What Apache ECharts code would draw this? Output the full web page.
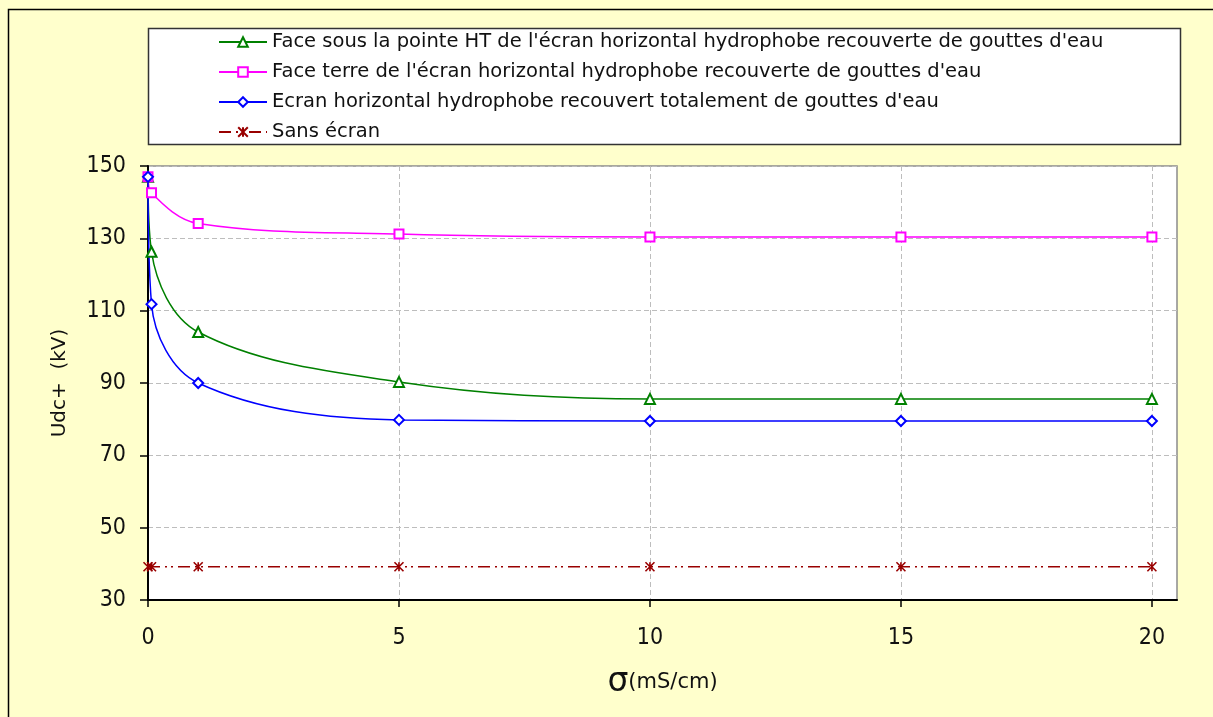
<!DOCTYPE html>
<html>
<head>
<meta charset="utf-8">
<script src="https://cdn.jsdelivr.net/npm/echarts@6/dist/echarts.min.js"></script>
<style>
html,body{margin:0;padding:0;background:#FFFFCC;}
#chart{width:1213px;height:717px;}
</style>
</head>
<body>
<div id="chart"></div>
<script>
var FONT_C = '"DejaVu Sans Condensed", "DejaVu Sans", sans-serif';
var FONT = '"DejaVu Sans", sans-serif';

var xValues = [0, 0.07, 1, 5, 10, 15, 20];
var faceSousPointe = [147, 126.3, 104.1, 90.3, 85.6, 85.6, 85.6];
var faceTerre = [147, 142.6, 134.1, 131.2, 130.4, 130.4, 130.4];
var ecranTotal = [147, 111.8, 90.0, 79.8, 79.5, 79.5, 79.5];
var sansEcran = [39.2, 39.2, 39.2, 39.2, 39.2, 39.2, 39.2];

var seriesNames = [
  "Face sous la pointe HT de l'écran horizontal hydrophobe recouverte de gouttes d'eau",
  "Face terre de l'écran horizontal hydrophobe recouverte de gouttes d'eau",
  "Ecran horizontal hydrophobe recouvert totalement de gouttes d'eau",
  "Sans écran"
];
var xTicks = [0, 5, 10, 15, 20];

function pairs(ys) { return xValues.map(function (x, i) { return [x, ys[i]]; }); }

var chart = echarts.init(document.getElementById('chart'), null, {renderer: 'canvas'});
chart.setOption({
  backgroundColor: '#FFFFCC',
  animation: false,
  textStyle: {fontFamily: FONT},
  graphic: [
    {type: 'rect', shape: {x: 8.5, y: 9.5, width: 1220, height: 720}, style: {fill: 'none', stroke: '#000', lineWidth: 1.5}, silent: true},
    {type: 'rect', shape: {x: 148.5, y: 28.5, width: 1032, height: 116}, style: {fill: '#fff', stroke: '#333', lineWidth: 1.5}, silent: true, z: 0}
  ],
  legend: {
    orient: 'vertical',
    left: 218,
    top: 32,
    padding: 0,
    itemGap: 10,
    itemWidth: 48,
    itemHeight: 12,
    z: 10,
    textStyle: {fontFamily: FONT, fontSize: 19.5, color: '#111', lineHeight: 20},
    data: seriesNames
  },
  grid: {
    left: 148, top: 166, right: 36, bottom: 117,
    show: true, backgroundColor: '#fff', borderColor: '#8c8c8c', borderWidth: 1.5,
    containLabel: false
  },
  xAxis: {
    type: 'value', min: 0, max: 20.5, interval: 5,
    name: '{s|σ}{t|(mS/cm)}', nameLocation: 'middle', nameGap: 66,
    nameTextStyle: {rich: {
      s: {fontFamily: FONT, fontSize: 33, color: '#111'},
      t: {fontFamily: FONT, fontSize: 21, color: '#111'}
    }},
    axisLine: {show: true, onZero: false, lineStyle: {color: '#000', width: 2}},
    axisTick: {show: true, inside: false, length: 7, customValues: xTicks, lineStyle: {color: '#000', width: 1.5}},
    axisLabel: {fontFamily: FONT_C, fontSize: 23, color: '#111', margin: 27, showMaxLabel: false,
      formatter: function (v) { return (v % 5 === 0) ? String(v) : ''; }},
    splitLine: {show: true, lineStyle: {color: '#bdbdbd', type: [5, 3], width: 1}}
  },
  yAxis: {
    type: 'value', min: 30, max: 150, interval: 20,
    name: 'Udc+  (kV)', nameLocation: 'middle', nameGap: 78,
    nameTextStyle: {fontFamily: FONT, fontSize: 20, color: '#111'},
    axisLine: {show: true, onZero: false, lineStyle: {color: '#000', width: 2}},
    axisTick: {show: true, inside: false, length: 8, lineStyle: {color: '#000', width: 1.5}},
    axisLabel: {fontFamily: FONT_C, fontSize: 23, color: '#111', margin: 22},
    splitLine: {show: true, lineStyle: {color: '#bdbdbd', type: [5, 3], width: 1}}
  },
  series: [
    {
      name: seriesNames[0], type: 'line', data: pairs(faceSousPointe), smooth: 0.35,
      symbol: 'emptyTriangle', symbolSize: 10, showAllSymbol: true,
      lineStyle: {color: '#008000', width: 1.5}, itemStyle: {color: '#008000', borderWidth: 1.3}
    },
    {
      name: seriesNames[1], type: 'line', data: pairs(faceTerre), smooth: 0.35,
      symbol: 'emptyRect', symbolSize: 9, showAllSymbol: true,
      lineStyle: {color: '#FF00FF', width: 1.5}, itemStyle: {color: '#FF00FF', borderWidth: 1.3}
    },
    {
      name: seriesNames[2], type: 'line', data: pairs(ecranTotal), smooth: 0.35,
      symbol: 'emptyDiamond', symbolSize: 10, showAllSymbol: true,
      lineStyle: {color: '#0000FF', width: 1.5}, itemStyle: {color: '#0000FF', borderWidth: 1.3}
    },
    {
      name: seriesNames[3], type: 'line', data: pairs(sansEcran), smooth: false,
      symbol: 'path://M0,0L10,10M10,0L0,10M5,0L5,10', symbolSize: 9, showAllSymbol: true,
      lineStyle: {color: '#990000', width: 1.5, type: [12, 5, 2, 4, 2, 5]},
      itemStyle: {color: '#990000', borderColor: '#990000', borderWidth: 1.6}
    }
  ]
});
</script>
</body>
</html>
